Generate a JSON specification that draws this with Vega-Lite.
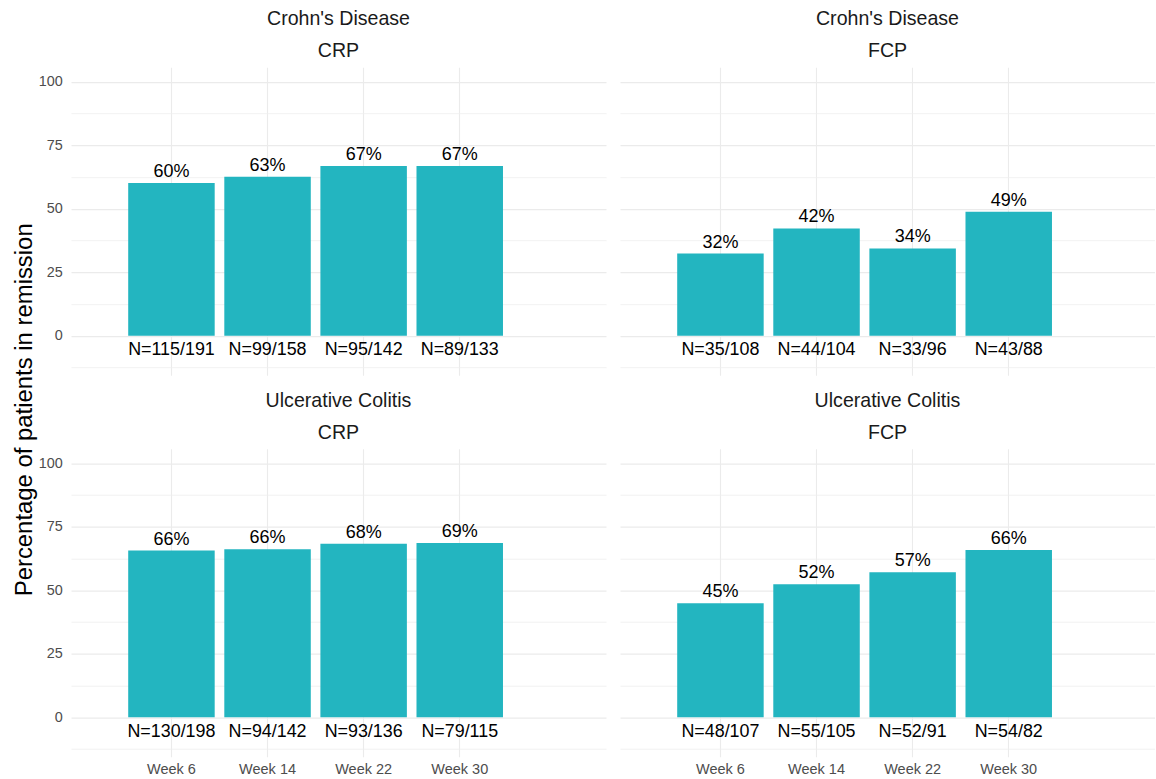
{
  "$schema": "https://vega.github.io/schema/vega-lite/v6.json",
  "padding": {"left": 13, "top": 9.2, "right": 0, "bottom": 0},
  "title": {"text": "Percentage of patients in remission", "orient": "left", "anchor": "middle", "fontSize": 23.9, "fontWeight": "normal", "font": "Liberation Sans", "color": "#000000", "offset": 1, "dx": -17},
  "data": {"values": [
    {"panel": "Crohn's Disease|CRP", "week": "Week 6", "pct": 60.2, "pct_label": "60%", "n_label": "N=115/191"},
    {"panel": "Crohn's Disease|CRP", "week": "Week 14", "pct": 62.7, "pct_label": "63%", "n_label": "N=99/158"},
    {"panel": "Crohn's Disease|CRP", "week": "Week 22", "pct": 66.9, "pct_label": "67%", "n_label": "N=95/142"},
    {"panel": "Crohn's Disease|CRP", "week": "Week 30", "pct": 66.9, "pct_label": "67%", "n_label": "N=89/133"},
    {"panel": "Crohn's Disease|FCP", "week": "Week 6", "pct": 32.4, "pct_label": "32%", "n_label": "N=35/108"},
    {"panel": "Crohn's Disease|FCP", "week": "Week 14", "pct": 42.3, "pct_label": "42%", "n_label": "N=44/104"},
    {"panel": "Crohn's Disease|FCP", "week": "Week 22", "pct": 34.4, "pct_label": "34%", "n_label": "N=33/96"},
    {"panel": "Crohn's Disease|FCP", "week": "Week 30", "pct": 48.9, "pct_label": "49%", "n_label": "N=43/88"},
    {"panel": "Ulcerative Colitis|CRP", "week": "Week 6", "pct": 65.7, "pct_label": "66%", "n_label": "N=130/198"},
    {"panel": "Ulcerative Colitis|CRP", "week": "Week 14", "pct": 66.2, "pct_label": "66%", "n_label": "N=94/142"},
    {"panel": "Ulcerative Colitis|CRP", "week": "Week 22", "pct": 68.4, "pct_label": "68%", "n_label": "N=93/136"},
    {"panel": "Ulcerative Colitis|CRP", "week": "Week 30", "pct": 68.7, "pct_label": "69%", "n_label": "N=79/115"},
    {"panel": "Ulcerative Colitis|FCP", "week": "Week 6", "pct": 44.9, "pct_label": "45%", "n_label": "N=48/107"},
    {"panel": "Ulcerative Colitis|FCP", "week": "Week 14", "pct": 52.4, "pct_label": "52%", "n_label": "N=55/105"},
    {"panel": "Ulcerative Colitis|FCP", "week": "Week 22", "pct": 57.1, "pct_label": "57%", "n_label": "N=52/91"},
    {"panel": "Ulcerative Colitis|FCP", "week": "Week 30", "pct": 65.9, "pct_label": "66%", "n_label": "N=54/82"}
  ]},
  "facet": {
    "field": "panel", "type": "nominal",
    "header": {"title": null, "labelExpr": "split(datum.value, '|')", "labelFontSize": 19.6, "labelFont": "Liberation Sans", "labelColor": "#1a1a1a", "labelLineHeight": 32, "labelBaseline": "bottom", "labelPadding": -13.8}
  },
  "columns": 2,
  "spacing": {"row": 15.5, "column": 14},
  "spec": {
    "width": 535,
    "height": 308,
    "encoding": {
      "x": {
        "field": "week", "type": "nominal",
        "sort": ["Week 6", "Week 14", "Week 22", "Week 30"],
        "scale": {"paddingInner": 0.1, "paddingOuter": 0.8336, "align": 0.357},
        "axis": {"title": null, "labelAngle": 0, "domain": false, "ticks": false, "grid": true, "bandPosition": 0.5, "gridColor": "#ebebeb", "gridWidth": 1.1, "labelFontSize": 14.5, "labelColor": "#4d4d4d", "labelPadding": 5.5, "labelFont": "Liberation Sans"}
      }
    },
    "resolve": {"axis": {"y": "independent"}},
    "layer": [
      {
        "mark": {"type": "bar", "color": "#23B5C0"},
        "encoding": {
          "y": {
            "field": "pct", "type": "quantitative",
            "scale": {"domain": [-15.5, 105.8], "nice": false, "zero": false},
            "axis": {
              "title": null,
              "values": [0, 25, 50, 75, 100],
              "domain": false, "ticks": false, "grid": true,
              "gridColor": "#ebebeb", "gridWidth": 1.2,
              "labelFontSize": 14.4, "labelColor": "#4d4d4d", "labelPadding": 8.7, "labelFont": "Liberation Sans"
            }
          },
          "y2": {"datum": 0}
        }
      },
      {
        "mark": {"type": "text", "dy": -6, "baseline": "alphabetic", "fontSize": 18, "font": "Liberation Sans", "color": "#000000"},
        "encoding": {
          "y": {"field": "pct", "type": "quantitative", "axis": null},
          "text": {"field": "pct_label"}
        }
      },
      {
        "mark": {"type": "text", "dy": 19.5, "baseline": "alphabetic", "fontSize": 17.9, "font": "Liberation Sans", "color": "#000000"},
        "encoding": {
          "y": {
            "datum": 0,
            "axis": {
              "title": null, "orient": "left",
              "values": [-12.5, 12.5, 37.5, 62.5, 87.5],
              "labels": false, "domain": false, "ticks": false, "grid": true,
              "gridColor": "#ededed", "gridWidth": 0.8
            }
          },
          "text": {"field": "n_label"}
        }
      }
    ]
  },
  "config": {"view": {"stroke": null}, "font": "Liberation Sans"}
}
